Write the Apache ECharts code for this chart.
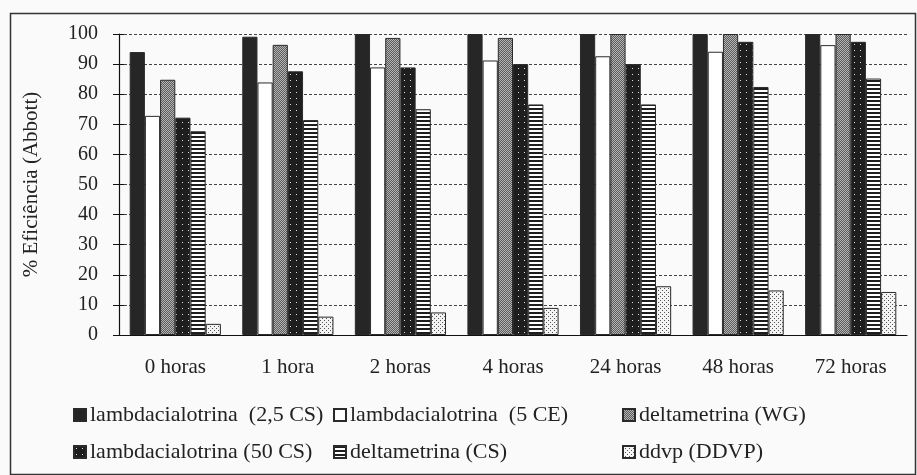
<!DOCTYPE html>
<html>
<head>
<meta charset="utf-8">
<script src="https://cdn.jsdelivr.net/npm/echarts@6/dist/echarts.min.js"></script>
<style>
html,body{margin:0;padding:0;background:#fafafa;}
#chart{width:917px;height:475px;}
</style>
</head>
<body>
<div id="chart"></div>
<script>
const categories = ['0 horas','1 hora','2 horas','4 horas','24 horas','48 horas','72 horas'];
const seriesNames = ['lambdacialotrina  (2,5 CS)','lambdacialotrina  (5 CE)','deltametrina (WG)','lambdacialotrina (50 CS)','deltametrina (CS)','ddvp (DDVP)'];
const lambda25CS = [94, 99.1, 100, 100, 100, 100, 100];
const lambda5CE = [72.8, 83.9, 88.9, 91.2, 92.6, 94.1, 96.3];
const deltaWG = [84.8, 96.4, 98.7, 98.7, 100, 100, 100];
const lambda50CS = [72.2, 87.6, 88.9, 90, 90, 97.4, 97.4];
const deltaCS = [67.7, 71.4, 75, 76.6, 76.6, 82.4, 85.2];
const ddvp = [3.7, 6.1, 7.5, 9, 16.2, 14.8, 14.3];
const yTicks = [0,10,20,30,40,50,60,70,80,90,100];

function pattern(w, h, bg, fg, pts) {
  const c = document.createElement('canvas');
  c.width = w; c.height = h;
  const ctx = c.getContext('2d');
  ctx.fillStyle = bg; ctx.fillRect(0,0,w,h);
  ctx.fillStyle = fg;
  pts.forEach(p => ctx.fillRect(p[0], p[1], p[2]||1, p[3]||1));
  return {image: c, repeat: 'repeat'};
}
const fills = [
  '#262626',
  '#ffffff',
  pattern(2,2,'#5c5c5c','#b4b4b4',[[0,0],[1,1]]),
  pattern(6,6,'#1e1e1e','#e0e0e0',[[2,2]]),
  pattern(1,4,'#ffffff','#1e1e1e',[[0,0,1,2]]),
  pattern(4,4,'#f4f4f4','#555555',[[0,0],[2,2]])
];
const data = [lambda25CS, lambda5CE, deltaWG, lambda50CS, deltaCS, ddvp];

const font = 'Liberation Serif';
const series = data.map((d,i) => ({
  name: seriesNames[i],
  type: 'bar',
  data: d,
  barGap: '0%',
  barCategoryGap: '19%',
  itemStyle: {color: fills[i], borderColor: '#2a2a2a', borderWidth: 1},
  emphasis: {disabled: true}
}));

const legendPos = [[68,399],[328,399],[617,399],[68,436],[328,436],[617,436]];
const legends = seriesNames.map((n,i) => ({
  data: [n],
  left: legendPos[i][0],
  top: legendPos[i][1],
  icon: 'rect',
  itemWidth: 12,
  itemHeight: 12,
  itemGap: 0,
  selectedMode: false,
  textStyle: {fontFamily: font, fontSize: 22, color: '#222', padding: [0,0,0,-1]}
}));

const chart = echarts.init(document.getElementById('chart'), null, {renderer: 'canvas'});
chart.setOption({
  backgroundColor: '#fafafa',
  animation: false,
  grid: {left: 119, right: 10, top: 34, bottom: 140},
  legend: legends,
  graphic: [{type: 'rect', left: 8, top: 11, shape: {width: 905, height: 461}, style: {fill: 'none', stroke: '#333', lineWidth: 1.5}, silent: true}],
  xAxis: {
    type: 'category',
    data: categories,
    axisLine: {lineStyle: {color: '#111', width: 1.2}},
    axisTick: {length: 5, lineStyle: {color: '#111'}},
    axisLabel: {fontFamily: font, fontSize: 21, color: '#222', margin: 22}
  },
  yAxis: [{
    type: 'value', min: 0, max: 100, interval: 10,
    name: '% Eficiência (Abbott)',
    nameLocation: 'middle', nameGap: 77, nameRotate: 90,
    nameTextStyle: {fontFamily: font, fontSize: 21, color: '#222'},
    axisLine: {show: true, lineStyle: {color: '#111', width: 1.2}},
    axisTick: {show: true, length: 6, lineStyle: {color: '#111'}},
    axisLabel: {fontFamily: font, fontSize: 20, color: '#222', margin: 21,
      formatter: v => yTicks.indexOf(v) >= 0 ? String(v) : ''},
    splitLine: {show: true, lineStyle: {color: '#444', type: [3,2], width: 1}}
  },{
    type: 'value', min: 0, max: 100, interval: 10, position: 'left',
    axisLine: {show: false},
    axisTick: {show: true, inside: true, length: 5, lineStyle: {color: '#111'}},
    axisLabel: {show: false},
    splitLine: {show: false}
  }],
  series: series
});
</script>
</body>
</html>
